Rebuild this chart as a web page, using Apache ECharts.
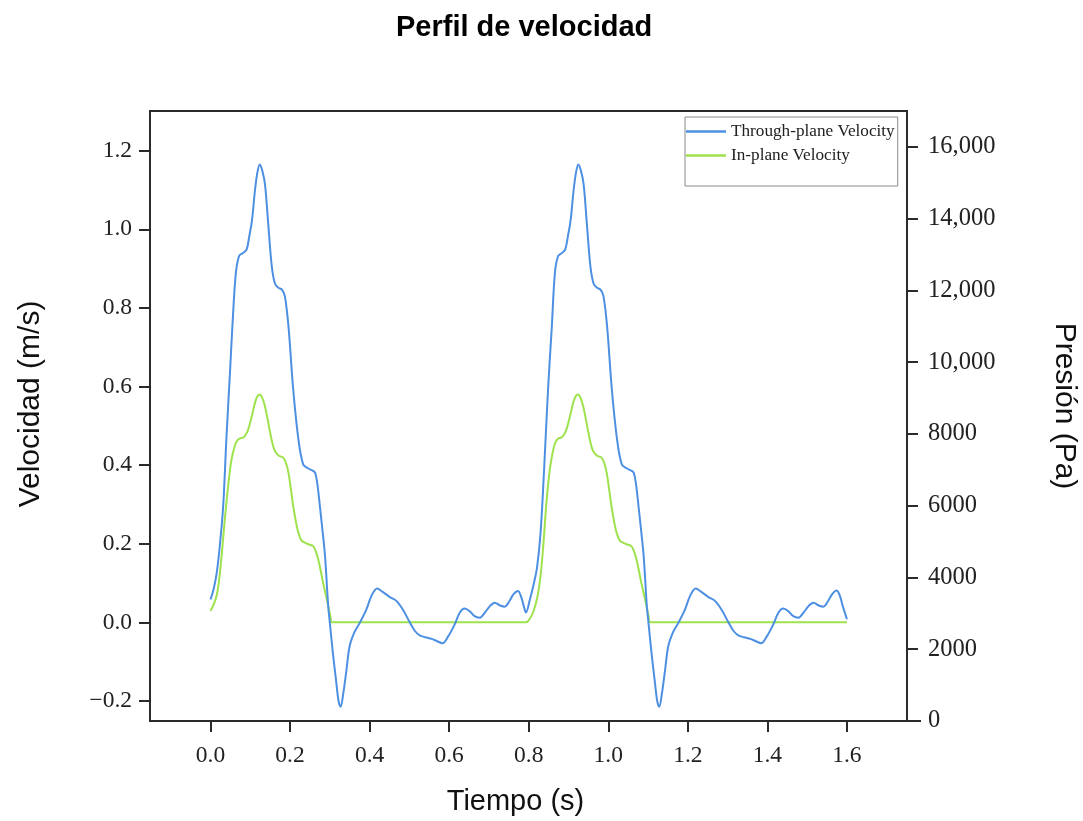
<!DOCTYPE html>
<html>
<head>
<meta charset="utf-8">
<script src="https://cdn.jsdelivr.net/npm/echarts@6/dist/echarts.min.js"></script>
<style>
  html, body { margin: 0; padding: 0; background: #fff; }
  #chart { width: 1083px; height: 821px; }
</style>
</head>
<body>
<div id="chart"></div>
<script>
// ---- data ----
const throughTime = [
  0.000,0.008,0.016,0.024,0.032,0.040,0.049,0.057,0.064,0.072,0.082,0.091,0.098,0.104,0.112,0.118,0.124,0.130,0.137,0.145,
  0.154,0.162,0.170,0.180,0.187,0.196,0.208,0.221,0.233,0.245,0.255,0.263,0.269,0.275,0.282,0.288,0.296,0.300,0.308,0.316,
  0.322,0.327,0.334,0.342,0.350,0.362,0.376,0.392,0.405,0.419,0.432,0.450,0.468,0.485,0.501,0.514,0.526,0.540,0.556,0.570,
  0.583,0.598,0.614,0.627,0.639,0.652,0.664,0.677,0.690,0.703,0.715,0.728,0.740,0.752,0.762,0.773,0.781,0.788,0.793,0.803,
  0.812,0.821,0.830,0.839,0.849,0.858,0.866,0.874,0.884,0.892,0.899,0.905,0.913,0.919,0.925,0.931,0.938,0.946,0.955,0.963,
  0.971,0.981,0.988,0.997,1.009,1.022,1.034,1.046,1.056,1.064,1.070,1.076,1.083,1.089,1.097,1.101,1.109,1.117,1.123,1.128,
  1.135,1.143,1.151,1.163,1.177,1.193,1.206,1.220,1.233,1.251,1.269,1.286,1.302,1.315,1.327,1.341,1.357,1.371,1.384,1.399,
  1.415,1.428,1.440,1.453,1.465,1.478,1.491,1.504,1.516,1.529,1.541,1.553,1.563,1.574,1.582,1.590,1.600
];
const throughVelocity = [
  0.058,0.085,0.128,0.200,0.296,0.466,0.635,0.788,0.890,0.932,0.940,0.949,0.985,1.020,1.100,1.145,1.165,1.150,1.115,1.017,
  0.907,0.862,0.852,0.846,0.830,0.754,0.593,0.466,0.402,0.392,0.387,0.381,0.350,0.296,0.230,0.169,0.041,0.000,-0.080,-0.150,
  -0.200,-0.215,-0.180,-0.120,-0.060,-0.025,0.000,0.033,0.068,0.086,0.078,0.065,0.054,0.030,0.000,-0.022,-0.033,-0.038,-0.042,-0.048,
  -0.053,-0.035,-0.005,0.025,0.035,0.028,0.016,0.012,0.025,0.042,0.050,0.043,0.040,0.055,0.072,0.080,0.065,0.040,0.025,0.058,
  0.095,0.140,0.230,0.395,0.600,0.750,0.890,0.932,0.940,0.949,0.985,1.020,1.100,1.145,1.165,1.150,1.115,1.017,0.907,0.862,
  0.852,0.846,0.830,0.754,0.593,0.466,0.402,0.392,0.387,0.381,0.350,0.296,0.230,0.169,0.041,0.000,-0.080,-0.150,-0.200,-0.215,
  -0.180,-0.120,-0.060,-0.025,0.000,0.033,0.068,0.086,0.078,0.065,0.054,0.030,0.000,-0.022,-0.033,-0.038,-0.042,-0.048,-0.053,-0.035,
  -0.005,0.025,0.035,0.028,0.016,0.012,0.025,0.042,0.050,0.043,0.040,0.055,0.072,0.081,0.068,0.040,0.008
];
const inPlaneTime = [
  0.000,0.008,0.016,0.022,0.028,0.035,0.041,0.047,0.053,0.060,0.066,0.074,0.082,0.089,0.095,0.104,0.112,0.118,0.124,0.130,
  0.137,0.144,0.150,0.156,0.162,0.172,0.183,0.190,0.196,0.202,0.208,0.215,0.221,0.229,0.237,0.248,0.258,0.265,0.271,0.277,
  0.283,0.290,0.296,0.301,0.305,0.315,0.793,0.802,0.811,0.822,0.830,0.837,0.845,0.852,0.858,0.866,0.874,0.882,0.889,0.895,
  0.904,0.912,0.918,0.924,0.930,0.937,0.944,0.950,0.956,0.962,0.972,0.983,0.990,0.996,1.002,1.008,1.015,1.021,1.029,1.037,
  1.048,1.058,1.065,1.071,1.077,1.083,1.090,1.096,1.101,1.105,1.115,1.600
];
const inPlaneVelocity = [
  0.029,0.045,0.070,0.110,0.169,0.250,0.313,0.370,0.415,0.445,0.461,0.468,0.470,0.478,0.491,0.525,0.559,0.575,0.580,0.572,
  0.550,0.515,0.483,0.455,0.436,0.424,0.419,0.405,0.381,0.340,0.296,0.255,0.228,0.208,0.203,0.198,0.194,0.180,0.160,0.132,
  0.101,0.070,0.042,0.018,0.000,0.000,0.000,0.008,0.025,0.065,0.120,0.200,0.310,0.380,0.420,0.455,0.468,0.470,0.478,0.491,
  0.525,0.559,0.575,0.580,0.572,0.550,0.515,0.483,0.455,0.436,0.424,0.419,0.405,0.381,0.340,0.296,0.255,0.228,0.208,0.203,
  0.198,0.194,0.180,0.160,0.132,0.101,0.070,0.042,0.018,0.000,0.000,0.000
];
const seriesNames = ['Through-plane Velocity', 'In-plane Velocity'];
const xTicks = [0.0, 0.2, 0.4, 0.6, 0.8, 1.0, 1.2, 1.4, 1.6];
const leftTicks = [-0.2, 0.0, 0.2, 0.4, 0.6, 0.8, 1.0, 1.2];
const rightTicks = [0, 2000, 4000, 6000, 8000, 10000, 12000, 14000, 16000];
const rightTickLabels = ['0', '2000', '4000', '6000', '8000', '10,000', '12,000', '14,000', '16,000'];

// ---- chart ----
const pairs = (xs, ys) => xs.map((x, i) => [x, ys[i]]);
const axisColor = '#2b2b2b';
const serif = '"Liberation Serif", "Times New Roman", serif';
const sans = '"Liberation Sans", Arial, sans-serif';

const chart = echarts.init(document.getElementById('chart'), null, { renderer: 'canvas' });
chart.setOption({
  animation: false,
  backgroundColor: '#ffffff',
  title: {
    text: 'Perfil de velocidad',
    left: 391, top: 8,
    textStyle: { fontFamily: sans, fontSize: 29, fontWeight: 'bold', color: '#000' }
  },
  legend: {
    orient: 'vertical',
    left: 685, top: 117,
    padding: [6, 3, 22, 1],
    itemGap: 7,
    itemWidth: 40, itemHeight: 2.5,
    icon: 'rect',
    borderColor: '#8a8a8a', borderWidth: 1,
    backgroundColor: '#fff',
    textStyle: { fontFamily: serif, fontSize: 17.2, color: '#222', lineHeight: 17, padding: [0, 0, 0, 0] },
    data: seriesNames
  },
  grid: {
    left: 150, top: 111, width: 757, height: 610,
    show: true, borderColor: axisColor, borderWidth: 2,
    containLabel: false, outerBoundsMode: 'none'
  },
  xAxis: {
    type: 'value', min: -0.152, max: 1.751,
    name: 'Tiempo (s)', nameLocation: 'middle', nameGap: 66,
    nameTextStyle: { fontFamily: sans, fontSize: 29, color: '#111', padding: [0, 26, 0, 0] },
    splitLine: { show: false },
    axisLine: { show: true, onZero: false, lineStyle: { color: axisColor, width: 2 } },
    axisTick: { show: true, length: 11, lineStyle: { color: axisColor, width: 2 }, customValues: xTicks },
    axisLabel: { fontFamily: serif, fontSize: 23.5, color: '#222', margin: 23, customValues: xTicks,
      formatter: v => v.toFixed(1) }
  },
  yAxis: [{
    type: 'value', position: 'left', min: -0.251, max: 1.301,
    name: 'Velocidad (m/s)', nameLocation: 'middle', nameGap: 104, nameRotate: 90,
    nameTextStyle: { fontFamily: sans, fontSize: 30, color: '#111', padding: [0, 0, 0, 24] },
    splitLine: { show: false },
    axisLine: { show: true, onZero: false, lineStyle: { color: axisColor, width: 2 } },
    axisTick: { show: true, length: 11, lineStyle: { color: axisColor, width: 2 }, customValues: leftTicks },
    axisLabel: { fontFamily: serif, fontSize: 23.5, color: '#222', margin: 18, customValues: leftTicks,
      formatter: v => (v < 0 ? '\u2212' + Math.abs(v).toFixed(1) : v.toFixed(1)) }
  }, {
    type: 'value', position: 'right', min: 0, max: 17000,
    name: 'Presión (Pa)', nameLocation: 'middle', nameGap: 142, nameRotate: -90,
    nameTextStyle: { fontFamily: sans, fontSize: 30, color: '#111', padding: [0, 20, 0, 0] },
    splitLine: { show: false },
    axisLine: { show: true, onZero: false, lineStyle: { color: axisColor, width: 2 } },
    axisTick: { show: true, length: 11, lineStyle: { color: axisColor, width: 2 }, customValues: rightTicks },
    axisLabel: { fontFamily: serif, fontSize: 24.5, color: '#222', margin: 21, customValues: rightTicks,
      formatter: v => { const i = rightTicks.indexOf(v); return i >= 0 ? rightTickLabels[i] : ''; } }
  }],
  graphic: [{
    type: 'line', z: 100,
    shape: { x1: 150, y1: 721, x2: 921, y2: 721 },
    style: { stroke: axisColor, lineWidth: 2 }
  }],
  series: [{
    name: seriesNames[0], type: 'line', yAxisIndex: 0,
    data: pairs(throughTime, throughVelocity),
    showSymbol: false, smooth: 0.35,
    lineStyle: { color: '#4d90e2', width: 2 },
    itemStyle: { color: '#4d90e2' },
    z: 3
  }, {
    name: seriesNames[1], type: 'line', yAxisIndex: 0,
    data: pairs(inPlaneTime, inPlaneVelocity),
    showSymbol: false, smooth: 0.35,
    lineStyle: { color: '#9ee24e', width: 2 },
    itemStyle: { color: '#9ee24e' },
    z: 2
  }]
});
</script>
</body>
</html>
